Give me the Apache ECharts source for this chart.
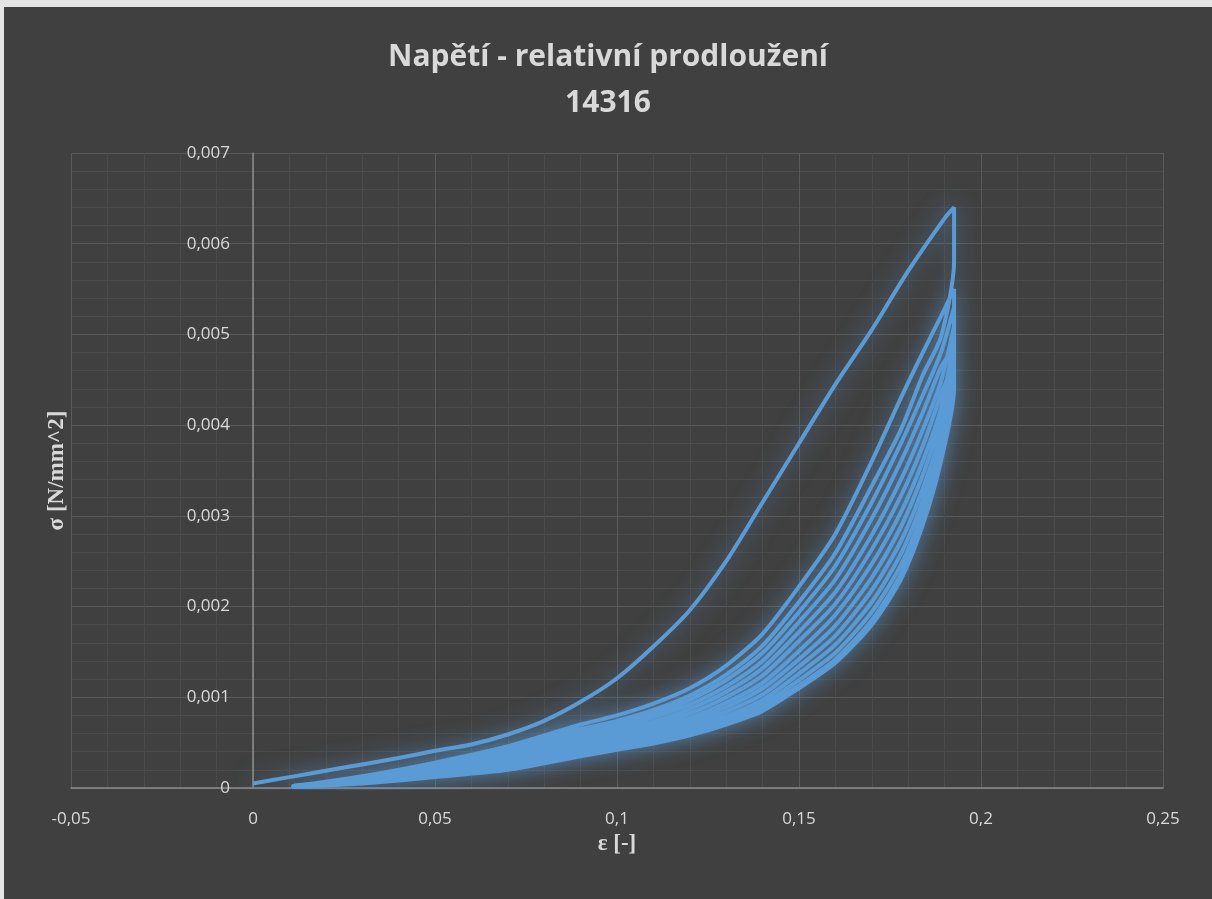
<!DOCTYPE html>
<html>
<head>
<meta charset="utf-8">
<title>Napětí - relativní prodloužení</title>
<script src="https://cdn.jsdelivr.net/npm/echarts@6/dist/echarts.min.js"></script>
<style>
  html, body {
    margin: 0;
    padding: 0;
    background: #e4e4e4;
  }
  #main {
    position: absolute;
    left: 4px;
    top: 7px;
    width: 1208px;
    height: 892px;
  }
</style>
</head>
<body>
<div id="main"></div>
<script>
  // first loading (virgin curve) from 0 to max strain
  const strainL1 = [0, 0.01, 0.02, 0.03, 0.04, 0.05, 0.06, 0.07, 0.08, 0.09, 0.1, 0.11, 0.12, 0.13, 0.14, 0.15, 0.16, 0.17, 0.18, 0.19, 0.1926];
  const stressL1 = [0.00005, 0.00012, 0.00019, 0.00026, 0.00033, 0.00041, 0.00048, 0.00059, 0.00074, 0.00095, 0.00121, 0.00156, 0.00196, 0.0025, 0.00315, 0.0038, 0.00445, 0.00505, 0.0057, 0.00628, 0.0064];

  // strain points shared by the following cycles (unloading is read backwards)
  const strainCycle = [0.011, 0.03, 0.05, 0.07, 0.09, 0.1, 0.11, 0.12, 0.13, 0.14, 0.15, 0.16, 0.17, 0.178, 0.184, 0.189, 0.1926];

  const unload1 = [0.00002, 0.00012, 0.00026, 0.00042, 0.00065, 0.00074, 0.00086, 0.00102, 0.00125, 0.00157, 0.00205, 0.00259, 0.00333, 0.00395, 0.00455, 0.00497, 0.0058];
  const load2 = [0.00002, 0.00013, 0.00028, 0.00046, 0.0007, 0.0008, 0.00093, 0.0011, 0.00135, 0.0017, 0.00222, 0.0028, 0.0036, 0.0043, 0.0048, 0.0052, 0.0055];
  const unload2 = [0.00002, 0.0001, 0.00022, 0.00037, 0.00058, 0.00067, 0.00078, 0.00092, 0.00112, 0.0014, 0.00183, 0.0023, 0.00297, 0.0036, 0.00414, 0.00464, 0.0049];
  const load3 = [0.00002, 0.00011, 0.00024, 0.0004, 0.00061, 0.00071, 0.00082, 0.00097, 0.00119, 0.00149, 0.00194, 0.00245, 0.00315, 0.0038, 0.00433, 0.0048, 0.0053];
  const unload3 = [0.00001, 0.00009, 0.00019, 0.00032, 0.00051, 0.00059, 0.00069, 0.00082, 0.001, 0.00124, 0.00162, 0.00203, 0.00263, 0.00322, 0.00377, 0.00434, 0.00475];
  const load4 = [0.00002, 0.00009, 0.00021, 0.00034, 0.00054, 0.00063, 0.00073, 0.00087, 0.00106, 0.00132, 0.00172, 0.00216, 0.00279, 0.0034, 0.00395, 0.00448, 0.0051];
  const unload4 = [0.00001, 0.00007, 0.00017, 0.00028, 0.00045, 0.00053, 0.00062, 0.00073, 0.00089, 0.0011, 0.00142, 0.00179, 0.00232, 0.00288, 0.00345, 0.00406, 0.0046];
  const load5 = [0.00001, 0.00008, 0.00018, 0.0003, 0.00048, 0.00056, 0.00065, 0.00077, 0.00094, 0.00116, 0.00151, 0.00191, 0.00247, 0.00304, 0.0036, 0.00419, 0.00495];
  const unload5 = [0.00001, 0.00006, 0.00014, 0.00024, 0.0004, 0.00047, 0.00055, 0.00065, 0.00079, 0.00097, 0.00126, 0.00158, 0.00205, 0.00258, 0.00317, 0.00382, 0.0045];
  const load6 = [0.00001, 0.00007, 0.00015, 0.00025, 0.00042, 0.0005, 0.00058, 0.00069, 0.00084, 0.00103, 0.00134, 0.00168, 0.00218, 0.00272, 0.0033, 0.00394, 0.0048];
  const unload6 = [0.00001, 0.00005, 0.00012, 0.00021, 0.00036, 0.00043, 0.0005, 0.0006, 0.00072, 0.00088, 0.00113, 0.00142, 0.00185, 0.00236, 0.00296, 0.00365, 0.00445];
  const load7 = [0.00001, 0.00006, 0.00013, 0.00022, 0.00038, 0.00045, 0.00053, 0.00062, 0.00075, 0.00092, 0.00119, 0.00149, 0.00194, 0.00246, 0.00305, 0.00373, 0.00465];
  const unload7 = [0.00001, 0.00005, 0.00012, 0.0002, 0.00035, 0.00042, 0.00049, 0.00058, 0.0007, 0.00085, 0.0011, 0.00138, 0.0018, 0.0023, 0.0029, 0.0036, 0.0044];

  const xTicks = { min: -0.05, max: 0.25, interval: 0.05 };
  const yTicks = { min: 0, max: 0.007, interval: 0.001 };

  // join the branches in test order into one continuous path
  const points = [];
  const addBranch = (strain, stress, reverse) => {
    const idx = strain.map((_, i) => i);
    if (reverse) idx.reverse();
    idx.forEach(i => points.push([strain[i], stress[i]]));
  };
  addBranch(strainL1, stressL1, false);
  [
    [unload1, load2], [unload2, load3], [unload3, load4],
    [unload4, load5], [unload5, load6], [unload6, load7]
  ].forEach(([u, l]) => {
    addBranch(strainCycle, u, true);
    addBranch(strainCycle, l, false);
  });
  addBranch(strainCycle, unload7, true);

  const comma = (v, d) => {
    const r = Math.round(v * Math.pow(10, d)) / Math.pow(10, d);
    return String(r).replace('.', ',');
  };

  const textColor = '#d9d9d9';
  const labelFont = { color: textColor, fontSize: 17, fontFamily: 'Open Sans' };
  const titleFont = { color: textColor, fontSize: 30, fontWeight: 'bold', fontFamily: 'Open Sans' };
  const nameFont = { color: textColor, fontSize: 23, fontWeight: 'bold', fontFamily: 'Liberation Serif' };

  const plotWidth = 1092;
  // the vertical axis crosses at strain 0, one interval right of the left edge
  const yAxisShift = plotWidth * xTicks.interval / (xTicks.max - xTicks.min);

  const chart = echarts.init(document.getElementById('main'));
  const option = {
    animation: false,
    backgroundColor: '#404040',
    title: [
      { text: 'Napětí - relativní prodloužení', left: 'center', top: 30, textStyle: titleFont },
      { text: '14316', left: 'center', top: 76, textStyle: titleFont }
    ],
    grid: {
      left: 67,
      top: 146,
      width: plotWidth,
      height: 635,
      containLabel: false,
      outerBoundsMode: 'none'
    },
    xAxis: {
      type: 'value',
      min: xTicks.min,
      max: xTicks.max,
      interval: xTicks.interval,
      name: 'ε [-]',
      nameLocation: 'middle',
      nameGap: 30,
      nameTextStyle: nameFont,
      axisLine: { show: true, onZero: false, lineStyle: { color: '#8c8c8c', width: 1.5 } },
      axisTick: { show: false },
      axisLabel: {
        ...labelFont,
        margin: 23,
        formatter: v => comma(v, 2)
      },
      splitLine: { show: true, lineStyle: { color: '#5a5a5a', width: 1 } },
      minorTick: { show: false, splitNumber: 5 },
      minorSplitLine: { show: true, lineStyle: { color: '#4b4b4b', width: 1 } }
    },
    yAxis: {
      type: 'value',
      position: 'left',
      offset: -yAxisShift,
      min: yTicks.min,
      max: yTicks.max,
      interval: yTicks.interval,
      name: 'σ [N/mm^2]',
      nameLocation: 'middle',
      nameGap: 184,
      nameTextStyle: nameFont,
      axisLine: { show: true, onZero: false, lineStyle: { color: '#8c8c8c', width: 1.5 } },
      axisTick: { show: false },
      axisLabel: {
        ...labelFont,
        margin: 23,
        formatter: v => comma(v, 3)
      },
      splitLine: { show: true, lineStyle: { color: '#5a5a5a', width: 1 } },
      minorTick: { show: false, splitNumber: 5 },
      minorSplitLine: { show: true, lineStyle: { color: '#4b4b4b', width: 1 } }
    },
    series: [
      {
        name: '14316',
        type: 'line',
        data: points,
        showSymbol: false,
        symbol: 'none',
        smooth: 0.25,
        lineStyle: {
          color: '#5b9bd5',
          width: 4,
          shadowBlur: 22,
          shadowColor: 'rgba(91, 155, 213, 0.75)'
        },
        itemStyle: { color: '#5b9bd5' },
        z: 3
      }
    ]
  };
  option && chart.setOption(option);
</script>
</body>
</html>
